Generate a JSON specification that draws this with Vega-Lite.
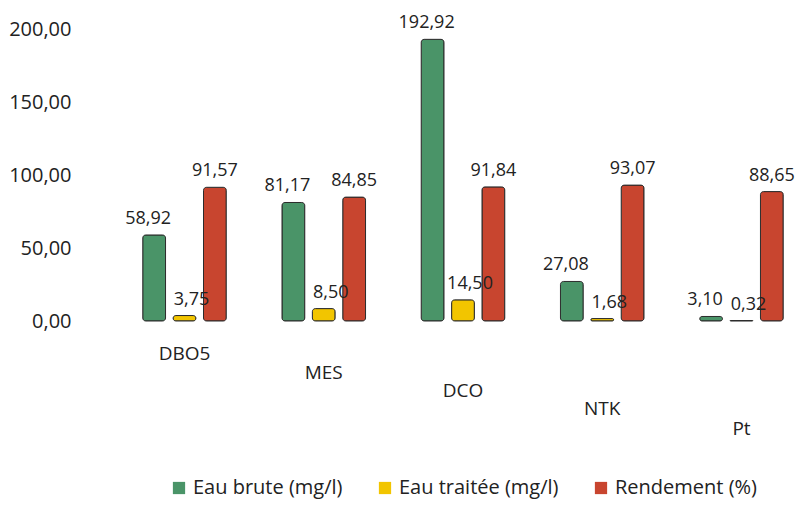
{
  "$schema": "https://vega.github.io/schema/vega-lite/v6.json",
  "width": 660,
  "height": 292,
  "padding": {"left": 8, "right": 2, "top": 14, "bottom": 2},
  "background": "white",
  "config": {"view": {"stroke": null}, "legend": {"layout": {"bottom": {"anchor": "middle"}}}},
  "data": {
    "values": [
      {"param": "DBO5", "serie": "Eau brute (mg/l)", "value": 58.92},
      {"param": "DBO5", "serie": "Eau traitée (mg/l)", "value": 3.75},
      {"param": "DBO5", "serie": "Rendement (%)", "value": 91.57},
      {"param": "MES", "serie": "Eau brute (mg/l)", "value": 81.17},
      {"param": "MES", "serie": "Eau traitée (mg/l)", "value": 8.50},
      {"param": "MES", "serie": "Rendement (%)", "value": 84.85},
      {"param": "DCO", "serie": "Eau brute (mg/l)", "value": 192.92},
      {"param": "DCO", "serie": "Eau traitée (mg/l)", "value": 14.50},
      {"param": "DCO", "serie": "Rendement (%)", "value": 91.84},
      {"param": "NTK", "serie": "Eau brute (mg/l)", "value": 27.08},
      {"param": "NTK", "serie": "Eau traitée (mg/l)", "value": 1.68},
      {"param": "NTK", "serie": "Rendement (%)", "value": 93.07},
      {"param": "Pt", "serie": "Eau brute (mg/l)", "value": 3.10},
      {"param": "Pt", "serie": "Eau traitée (mg/l)", "value": 0.32},
      {"param": "Pt", "serie": "Rendement (%)", "value": 88.65}
    ]
  },
  "encoding": {
    "x": {
      "field": "param", "type": "nominal", "sort": null,
      "scale": {"paddingInner": 0.4, "paddingOuter": 0.07},
      "axis": {"title": null, "labelAngle": 0, "domain": false, "ticks": false, "labelFontSize": 19, "labelColor": "#222", "labelFont": "Open Sans",
        "labelPadding": {"condition": [
          {"test": "datum.value === 'MES'", "value": 42},
          {"test": "datum.value === 'DCO'", "value": 60},
          {"test": "datum.value === 'NTK'", "value": 78},
          {"test": "datum.value === 'Pt'", "value": 98}
        ], "value": 23}}
    },
    "xOffset": {"field": "serie", "type": "nominal", "sort": ["Eau brute (mg/l)", "Eau traitée (mg/l)", "Rendement (%)"], "scale": {"paddingInner": 0.25}},
    "y": {
      "field": "value", "type": "quantitative",
      "scale": {"domain": [0, 200]},
      "axis": {"title": null, "values": [0, 50, 100, 150, 200], "grid": false, "domain": false, "ticks": false, "labelPadding": 62, "labelFontSize": 20, "labelColor": "#222", "labelFont": "Open Sans", "labelExpr": "replace(format(datum.value, '.2f'), '.', ',')"}
    }
  },
  "layer": [
    {
      "mark": {"type": "bar", "stroke": "#2b2b2b", "strokeWidth": 1, "cornerRadius": 3},
      "encoding": {
        "color": {
          "field": "serie", "type": "nominal",
          "sort": ["Eau brute (mg/l)", "Eau traitée (mg/l)", "Rendement (%)"],
          "scale": {"domain": ["Eau brute (mg/l)", "Eau traitée (mg/l)", "Rendement (%)"], "range": ["#4a9468", "#f2c500", "#c8452f"]},
          "legend": {"title": null, "orient": "bottom", "direction": "horizontal", "symbolType": "square", "symbolSize": 150, "symbolStrokeWidth": 0, "labelFontSize": 20, "labelFont": "Open Sans", "labelColor": "#222", "columnPadding": 32, "labelLimit": 300, "offset": 40}
        }
      }
    },
    {
      "mark": {"type": "text", "dy": -16, "fontSize": 18, "font": "Open Sans", "color": "#222",
        "dx": {"expr": "datum.serie === 'Eau traitée (mg/l)' ? 7 : (datum.serie === 'Eau brute (mg/l)' ? -6 : 0)"},
        "text": {"expr": "replace(format(datum.value, '.2f'), '.', ',')"}},
      "encoding": {}
    }
  ]
}
